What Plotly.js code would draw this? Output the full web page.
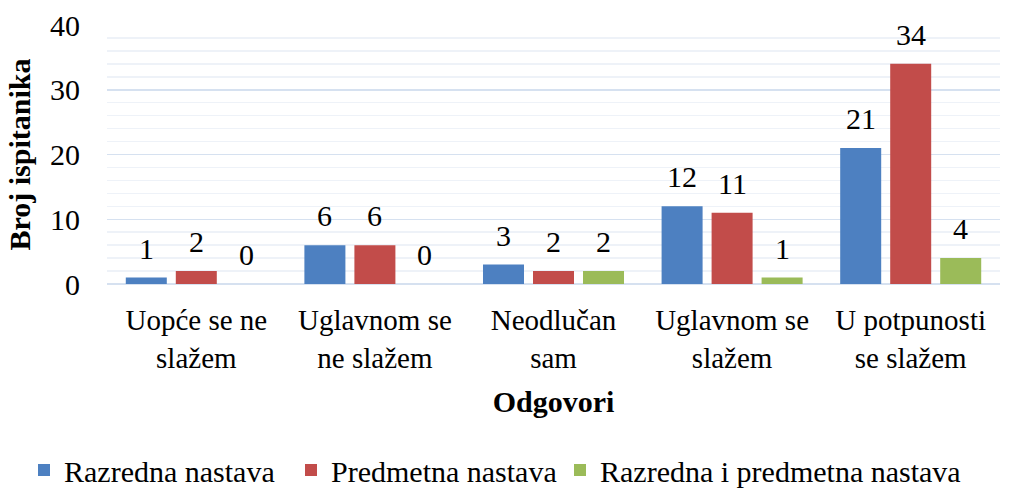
<!DOCTYPE html>
<html>
<head>
<meta charset="utf-8">
<script src="https://cdn.plot.ly/plotly-3.0.1.min.js"></script>
<style>html,body{margin:0;padding:0;background:#fff;}#chart{width:1011px;height:493px;}</style>
</head>
<body>
<div id="chart"></div>
<script>
const categories = ["Uopće se ne<br>slažem", "Uglavnom se<br>ne slažem", "Neodlučan<br>sam", "Uglavnom se<br>slažem", "U potpunosti<br>se slažem"];
const seriesNames = ["Razredna nastava", "Predmetna nastava", "Razredna i predmetna nastava"];
const razredna = [1, 6, 3, 12, 21];
const predmetna = [2, 6, 2, 11, 34];
const obje = [0, 0, 2, 1, 4];
const yTicks = [0, 10, 20, 30, 40];

const seriesValues = [razredna, predmetna, obje];
const colors = ["#4d80c1", "#c24c4a", "#9bbb59"];
const FONT = "Liberation Serif, Times New Roman, serif";
const BARGAP = 0.16;
const legendIds = ['legend', 'legend2', 'legend3'];
const legendLeft = [24, 291, 560];

const idx = categories.map((c, i) => i);
const traces = seriesValues.map((vals, k) => ({
  type: 'bar',
  name: seriesNames[k],
  x: idx,
  y: vals,
  legend: legendIds[k],
  marker: {color: colors[k], line: {width: 0}},
  hoverinfo: 'none'
}));

const slot = (1 - BARGAP) / seriesValues.length;
const annotations = [];
seriesValues.forEach((vals, k) => {
  vals.forEach((v, j) => {
    annotations.push({
      x: j + (k - (seriesValues.length - 1) / 2) * slot,
      y: v, xref: 'x', yref: 'y',
      text: String(v), showarrow: false,
      yanchor: 'bottom', yshift: 11,
      font: {family: FONT, size: 30, color: '#000'}
    });
  });
});

const layout = {
  width: 1011, height: 493,
  margin: {l: 107, r: 11, t: 25, b: 209},
  paper_bgcolor: '#fff', plot_bgcolor: '#fff',
  barmode: 'group', bargap: BARGAP, bargroupgap: 0.18,
  font: {family: FONT, size: 29, color: '#000'},
  xaxis: {
    automargin: false,
    tickmode: 'array', tickvals: idx, ticktext: categories,
    range: [-0.5, categories.length - 0.5],
    showgrid: false, zeroline: false, showline: false,
    ticks: '', ticklabelstandoff: 16,
    tickfont: {family: FONT, size: 29, color: '#000'},
    title: {text: '<b>Odgovori</b>', font: {family: FONT, size: 30, color: '#000'}, standoff: 18}
  },
  yaxis: {
    automargin: false,
    range: [0, 40], tickmode: 'array', tickvals: yTicks,
    showgrid: true, gridcolor: '#d6e1f0', gridwidth: 1.5,
    minor: {dtick: 2, showgrid: true, gridcolor: '#eef2f8', gridwidth: 1.5},
    zeroline: true, zerolinecolor: '#d6e1f0', zerolinewidth: 1.5,
    showline: false, ticks: '', ticklabelstandoff: 26,
    tickfont: {family: FONT, size: 30, color: '#000'},
    title: {text: '<b>Broj ispitanika</b>', font: {family: FONT, size: 30, color: '#000'}, standoff: 10}
  },
  showlegend: true,
  annotations: annotations
};

legendIds.forEach((id, k) => {
  layout[id] = {
    orientation: 'h', xref: 'container', yref: 'container',
    x: legendLeft[k] / 1011, xanchor: 'left', y: 0.0467, yanchor: 'middle',
    font: {family: FONT, size: 30, color: '#000'},
    itemwidth: 30, bgcolor: 'rgba(0,0,0,0)', borderwidth: 0
  };
});

Plotly.newPlot('chart', traces, layout, {displayModeBar: false, staticPlot: true});
</script>
</body>
</html>
